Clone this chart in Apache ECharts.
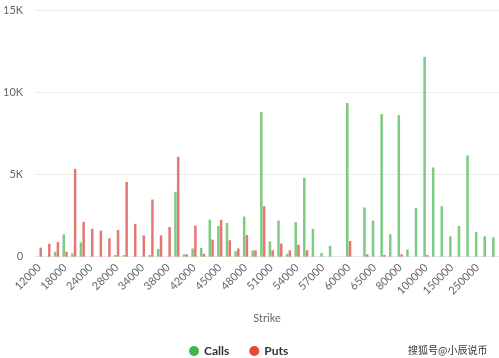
<!DOCTYPE html>
<html>
<head>
<meta charset="utf-8">
<script src="https://cdn.jsdelivr.net/npm/echarts@6/dist/echarts.min.js"></script>
<style>html,body{margin:0;padding:0;background:#fff;}#c{width:499px;height:358px;}</style>
</head>
<body>
<div id="c"></div>
<script>
const strikes = ['12000','14000','16000','18000','20000','22000','24000','25000','26000','28000',
  '30000','32000','34000','35000','36000','38000','40000','41000','42000','43000',
  '44000','45000','46000','47000','48000','49000','50000','51000','52000','53000',
  '54000','55000','56000','57000','58000','59000','60000','62000','64000','65000',
  '70000','75000','80000','85000','90000','100000','120000','140000','150000','200000',
  '220000','250000','300000','400000'];
const calls = [0,0,300,1360,200,870,0,0,0,100,
  100,0,0,100,470,0,3950,150,500,530,
  2250,1870,2050,330,2440,390,8800,930,2200,180,
  2100,4800,1690,220,670,0,9350,0,3000,2200,
  8680,1360,8620,430,2950,12160,5430,3070,1240,1870,
  6160,1500,1240,1180];
const puts = [550,790,900,300,5350,2130,1690,1585,1120,1620,
  4550,2000,1300,3480,1300,1810,6080,150,1890,180,
  1040,2250,1000,500,1320,390,3070,390,800,390,
  730,390,0,0,0,0,960,0,150,0,
  100,0,150,0,0,100,0,0,0,0,
  0,0,0,0];
const yTicks = [0, 5000, 10000, 15000];
const yTickLabels = ['0', '5K', '10K', '15K'];

const chart = echarts.init(document.getElementById('c'), null, {renderer: 'canvas'});
const font = 'Lato, "Open Sans", sans-serif';
chart.setOption({
  animation: false,
  grid: {left: 33, top: 10.3, width: 468, height: 246.4, containLabel: false},
  legend: {
    left: 189, top: 345, padding: 0, icon: 'circle', itemWidth: 10, itemHeight: 10, itemGap: 20,
    textStyle: {fontFamily: font, fontSize: 12, fontWeight: 'bold', color: '#333'},
    data: [
      {name: 'Calls', itemStyle: {color: '#3db64a', opacity: 1}},
      {name: 'Puts', itemStyle: {color: '#e8473c', opacity: 1}}
    ]
  },
  xAxis: {
    type: 'category', data: strikes,
    name: 'Strike', nameLocation: 'middle', nameGap: 56,
    nameTextStyle: {fontFamily: font, fontSize: 11, color: '#666'},
    axisLine: {lineStyle: {color: '#e6e6e6'}},
    axisTick: {show: false},
    axisLabel: {interval: 2, rotate: 45, margin: 9, fontFamily: font, fontSize: 11, color: '#666'}
  },
  yAxis: {
    type: 'value', min: 0, max: 15000, interval: 5000,
    axisLine: {show: false}, axisTick: {show: false},
    splitLine: {lineStyle: {color: '#ececec'}},
    axisLabel: {margin: 12, fontFamily: font, fontSize: 11, color: '#666',
      formatter: v => yTickLabels[yTicks.indexOf(v)]}
  },
  series: [
    {name: 'Calls', type: 'bar', data: calls, barWidth: 2.5, barGap: '10%',
      itemStyle: {color: '#7ccb80'}},
    {name: 'Puts', type: 'bar', data: puts, barWidth: 2.5, barGap: '10%',
      itemStyle: {color: '#e57772'}}
  ],
  graphic: [{
    type: 'text', left: 408, top: 345,
    style: {text: '搜狐号@小辰说币', fontFamily: '"Noto Sans CJK SC", sans-serif', fontSize: 10, fill: '#333'}
  }]
});
</script>
</body>
</html>
